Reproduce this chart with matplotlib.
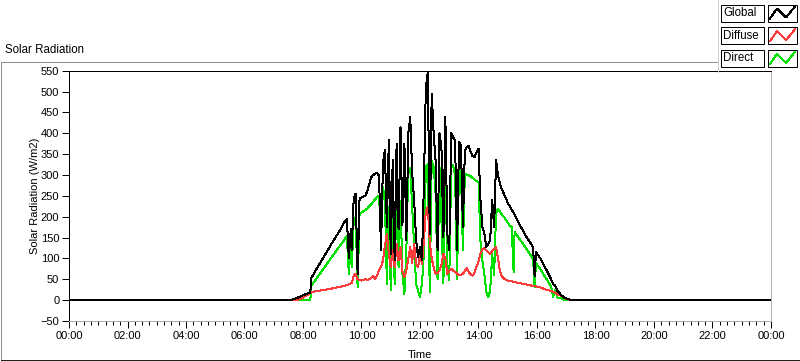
import numpy as np
import matplotlib
matplotlib.use("Agg")
import matplotlib.pyplot as plt
from matplotlib.ticker import MultipleLocator, FuncFormatter
from matplotlib.lines import Line2D
from matplotlib.patches import Rectangle

plt.rcParams['font.family'] = ['Liberation Sans', 'DejaVu Sans']

# time of day in minutes
minutes = [0, 455, 465, 475, 485, 495, 497, 510, 525, 540, 555, 565, 570, 574, 578, 580,
           584, 588, 592, 596, 600, 604, 608, 612, 616, 620, 624, 628, 632, 636, 640, 644,
           648, 652, 656, 660, 664, 668, 672, 676, 680, 684, 688, 692, 696, 700, 704, 708,
           712, 716, 720, 724, 728, 732, 736, 740, 744, 748, 752, 756, 760, 764, 768, 772,
           776, 780, 784, 788, 792, 796, 800, 804, 808, 812, 816, 820, 824, 828, 832, 836,
           840, 844, 848, 852, 856, 860, 864, 868, 872, 876, 880, 884, 888, 892, 896, 900,
           904, 908, 912, 914, 916, 924, 932, 940, 948, 952, 955, 958, 962, 968, 976, 984,
           989, 993, 997, 1002, 1010, 1016, 1023, 1030, 1440]

global_rad = [0, 0, 4, 9, 14, 18, 53, 79, 108, 138, 166, 187, 194, 100, 170, 120,
              245, 255, 63, 243, 246, 248, 250, 262, 278, 295, 300, 303, 305, 298, 120, 327,
              360, 175, 383, 111, 336, 96, 375, 170, 415, 180, 375, 144, 399, 439, 303, 240,
              144, 103, 127, 96, 280, 511, 546, 159, 495, 400, 335, 120, 400, 365, 150, 439,
              160, 120, 400, 390, 383, 120, 379, 370, 175, 359, 367, 370, 355, 345, 343, 355,
              363, 240, 175, 159, 127, 135, 145, 240, 175, 335, 300, 280, 265, 255, 245, 232,
              226, 217, 210, 205, 200, 182, 165, 148, 135, 125, 58, 115, 108, 98, 80, 62,
              50, 38, 35, 22, 12, 6, 3, 0, 0]

diffuse_rad = [0, 0, 0, 3, 10, 17, 19, 22, 25, 28, 32, 34, 36, 38, 40, 40,
               58, 63, 50, 48, 47, 48, 50, 49, 50, 53, 58, 50, 60, 71, 80, 95,
               130, 159, 111, 79, 120, 80, 135, 95, 127, 70, 55, 71, 100, 127, 90, 135,
               87, 79, 111, 87, 143, 215, 223, 140, 100, 79, 63, 65, 71, 85, 111, 100,
               63, 70, 75, 71, 68, 64, 59, 61, 63, 70, 77, 67, 62, 59, 66, 80,
               92, 111, 123, 125, 119, 115, 111, 118, 123, 127, 100, 70, 57, 52, 49, 47,
               46, 45, 44, 44, 43, 41, 39, 37, 35, 34, 33, 33, 32, 30, 26, 24,
               22, 20, 18, 14, 10, 6, 2, 0, 0]

direct_rad = [0, 0, 0, 0, 0, 0, 34, 56, 80, 105, 129, 145, 154, 62, 130, 80,
              190, 199, 31, 207, 210, 213, 216, 220, 225, 230, 236, 242, 247, 251, 143, 271,
              239, 39, 223, 24, 255, 39, 279, 79, 239, 63, 15, 119, 319, 315, 223, 127,
              39, 23, 7, 39, 111, 319, 327, 20, 335, 319, 255, 50, 319, 191, 40, 327,
              79, 47, 319, 323, 300, 50, 319, 311, 119, 303, 301, 299, 297, 293, 289, 285,
              283, 143, 95, 63, 20, 7, 23, 111, 60, 207, 219, 212, 205, 200, 193, 186,
              179, 175, 67, 163, 160, 147, 134, 120, 106, 98, 31, 88, 82, 72, 57, 42,
              32, 8, 25, 6, 4, 1, 0, 0, 0]

W, H = 800, 361
LW = 0.72  # one pixel
fig = plt.figure(figsize=(W / 100, H / 100), dpi=100)
fig.patch.set_facecolor('white')


def fx(x):
    return x / W


def fy(y):
    return 1 - y / H


# panel frame
frame = dict(transform=fig.transFigure, lw=LW, antialiased=False)
fig.add_artist(Line2D([fx(0.5), fx(718)], [fy(61.5), fy(61.5)], color='#909090', **frame))
fig.add_artist(Line2D([fx(0.5), fx(0.5)], [fy(61.5), fy(360)], color='#909090', **frame))
fig.add_artist(Line2D([fx(0.5), fx(799.5)], [fy(360), fy(360)], color='#202020', **frame))
fig.add_artist(Line2D([fx(799.5), fx(799.5)], [fy(72), fy(360)], color='#202020', **frame))
fig.text(fx(5), fy(50), 'Solar Radiation', fontsize=8.3, va='center', ha='left')

# plot area
ax = fig.add_axes([fx(69), fy(321), fx(771 - 69), (321 - 70.7) / H])
ax.plot(minutes, direct_rad, color='#00e000', lw=LW, antialiased=False, zorder=2)
ax.plot(minutes, diffuse_rad, color='#ff3c3c', lw=LW, antialiased=False, zorder=3)
ax.plot(minutes, global_rad, color='black', lw=LW, antialiased=False, zorder=4)

ax.set_xlim(0, 1440)
ax.set_ylim(-50, 550)
ax.set_yticks(range(-50, 551, 50))
ax.xaxis.set_major_locator(MultipleLocator(120))
ax.xaxis.set_minor_locator(MultipleLocator(15))
ax.xaxis.set_major_formatter(FuncFormatter(lambda v, p: '%02d:00' % ((int(v) // 60) % 24)))
ax.tick_params(axis='both', labelsize=8, direction='out', color='black', pad=2)
ax.tick_params(axis='x', which='major', length=5, width=LW)
ax.tick_params(axis='x', which='minor', length=3, width=LW)
ax.tick_params(axis='y', length=5, width=LW)
for s in ['top', 'left']:
    ax.spines[s].set_color('black')
    ax.spines[s].set_linewidth(LW)
for s in ['right', 'bottom']:
    ax.spines[s].set_color('#b0b0b0')
    ax.spines[s].set_linewidth(LW)

ax.set_ylabel('Solar Radiation (W/m2)', fontsize=8)
ax.yaxis.set_label_coords(-0.042, 0.5)
ax.set_xlabel('Time', fontsize=8)
ax.xaxis.set_label_coords(0.5, -0.115)

# legend in the top right corner
fig.add_artist(Line2D([fx(718), fx(718)], [fy(0), fy(72)], color='#d0d0d0',
                      transform=fig.transFigure, lw=LW, antialiased=False))
names = ['Global', 'Diffuse', 'Direct']
colors = ['black', '#ff3c3c', '#00e000']
for i, (name, col) in enumerate(zip(names, colors)):
    top = 4.5 + i * 22.7
    fig.add_artist(Rectangle((fx(720.5), fy(top + 17)), fx(43), 17 / H, transform=fig.transFigure,
                             facecolor='white', edgecolor='black', lw=LW, zorder=2))
    fig.add_artist(Rectangle((fx(767.5), fy(top + 17)), fx(29), 17 / H, transform=fig.transFigure,
                             facecolor='white', edgecolor='black', lw=LW, zorder=2))
    fig.text(fx(723), fy(top + 8.5), name, fontsize=8.3, va='center', ha='left', zorder=3)
    zx = [770, 777, 786, 795]
    zy = [top + 14, top + 4, top + 13, top + 2]
    fig.add_artist(Line2D([fx(v) for v in zx], [fy(v) for v in zy], color=col, lw=LW,
                          transform=fig.transFigure, antialiased=False, zorder=3))

fig.savefig('out.png', dpi=100)
